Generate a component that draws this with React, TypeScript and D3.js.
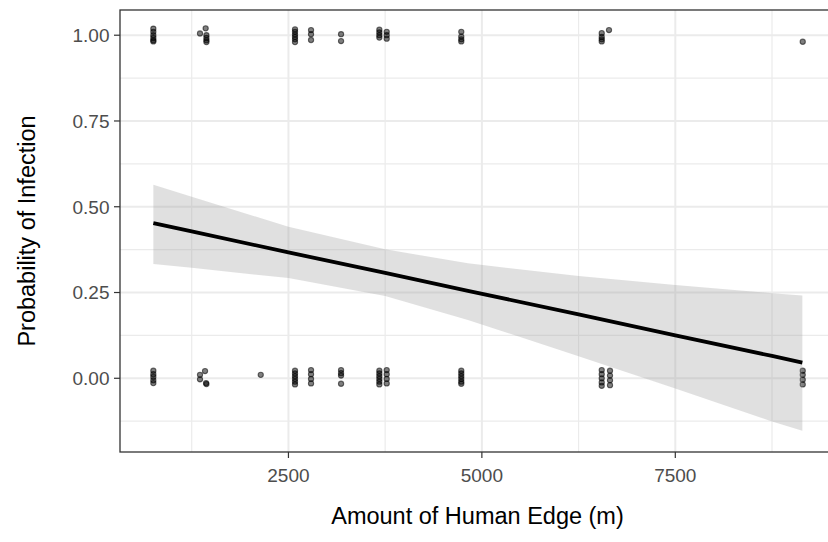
import React from "react";
import * as d3 from "d3";

const pointX = [
  754, 754, 754, 754, 754, 754,
  1430, 1357, 1440, 1440, 1440, 1440,
  2585, 2585, 2585, 2585, 2585, 2585,
  2792, 2792, 2792,
  3180, 3180,
  3675, 3675, 3675, 3675,
  3770, 3770, 3770,
  4734, 4734, 4734, 4734,
  6549, 6549, 6549, 6549,
  6643,
  9147,
  754, 754, 754, 754, 754,
  1422, 1357, 1357, 1435, 1440,
  2142,
  2585, 2585, 2585, 2585, 2585, 2585,
  2792, 2792, 2792, 2792,
  3180, 3180, 3180, 3180,
  3675, 3675, 3675, 3675, 3675, 3675,
  3770, 3770, 3770, 3770,
  4734, 4734, 4734, 4734, 4734, 4734,
  6549, 6549, 6549, 6549, 6549,
  6656, 6656, 6656, 6656,
  9147, 9147, 9147, 9147,
];
const pointY = [
  1.019, 1.01, 1.0, 0.992, 0.985, 0.982,
  1.02, 1.005, 1.0, 0.992, 0.985, 0.98,
  1.017, 1.01, 1.002, 0.995, 0.988, 0.98,
  1.015, 1.003, 0.986,
  1.003, 0.983,
  1.016, 1.008, 1.0, 0.993,
  1.01, 1.0, 0.99,
  1.01, 0.996, 0.988, 0.982,
  1.006, 0.995, 0.988, 0.982,
  1.015,
  0.981,
  0.022, 0.012, 0.004, -0.006, -0.014,
  0.021, 0.01, -0.003, -0.014, -0.017,
  0.01,
  0.022, 0.014, 0.006, -0.002, -0.01, -0.018,
  0.024, 0.012, -0.002, -0.015,
  0.024, 0.015, 0.008, -0.016,
  0.022, 0.014, 0.006, -0.002, -0.01, -0.018,
  0.024, 0.012, -0.002, -0.015,
  0.022, 0.014, 0.006, -0.002, -0.01, -0.016,
  0.024, 0.012, 0.0, -0.012, -0.022,
  0.022, 0.008, -0.006, -0.02,
  0.022, 0.01, -0.004, -0.018,
];

// fitted line and its confidence band
const fitX = [754, 1250, 2500, 3750, 4820, 6250, 7500, 8750, 9142];
const fitY = [0.452, 0.428, 0.367, 0.307, 0.255, 0.186, 0.125, 0.065, 0.0455];
const bandUpper = [0.564, 0.529, 0.442, 0.376, 0.335, 0.298, 0.272, 0.248, 0.241];
const bandLower = [0.333, 0.322, 0.292, 0.24, 0.17, 0.064, -0.03, -0.126, -0.153];

const xTicks = [2500, 5000, 7500];
const xMinor = [1250, 3750, 6250, 8750];
const yTicks = [0, 0.25, 0.5, 0.75, 1];
const yMinor = [-0.125, 0.125, 0.375, 0.625, 0.875];

const W = 828;
const H = 542;
const panel = { left: 120, right: 835, top: 10, bottom: 452 };

const App = () => {
  const x = d3.scaleLinear().domain([323, 9564]).range([panel.left, panel.right]);
  const y = d3.scaleLinear().domain([-0.2149, 1.0735]).range([panel.bottom, panel.top]);

  const idx = d3.range(fitX.length);
  const band = d3.area<number>()
    .x(i => x(fitX[i]))
    .y0(i => y(bandLower[i]))
    .y1(i => y(bandUpper[i]));
  const fit = d3.line<number>()
    .x(i => x(fitX[i]))
    .y(i => y(fitY[i]));

  const fmt = d3.format(".2f");
  const font = "'Liberation Sans', Arial, sans-serif";

  return (
    <svg width={W} height={H} style={{ position: "absolute", left: 0, top: 0, background: "white" }}
      fontFamily={font}>
      <rect x={0} y={0} width={W} height={H} fill="white" />
      {/* grid */}
      <g>
        {yMinor.map((d, i) =>
          <line key={"ym" + i} x1={panel.left} x2={panel.right} y1={y(d)} y2={y(d)} stroke="#ebebeb" strokeWidth={1.2} />)}
        {xMinor.map((d, i) =>
          <line key={"xm" + i} x1={x(d)} x2={x(d)} y1={panel.top} y2={panel.bottom} stroke="#ebebeb" strokeWidth={1.2} />)}
        {yTicks.map((d, i) =>
          <line key={"y" + i} x1={panel.left} x2={panel.right} y1={y(d)} y2={y(d)} stroke="#ebebeb" strokeWidth={2} />)}
        {xTicks.map((d, i) =>
          <line key={"x" + i} x1={x(d)} x2={x(d)} y1={panel.top} y2={panel.bottom} stroke="#ebebeb" strokeWidth={2} />)}
      </g>
      {/* points */}
      <g>
        {pointX.map((d, i) =>
          <circle key={i} cx={x(d)} cy={y(pointY[i])} r={2.6}
            fill="black" fillOpacity={0.5} stroke="black" strokeOpacity={0.55} strokeWidth={1.1} />)}
      </g>
      <path d={band(idx) || ""} fill="#999999" fillOpacity={0.3} />
      <path d={fit(idx) || ""} fill="none" stroke="black" strokeWidth={3.8} />
      {/* panel border */}
      <rect x={panel.left} y={panel.top} width={panel.right - panel.left} height={panel.bottom - panel.top}
        fill="none" stroke="#333333" strokeWidth={1.3} />
      {/* y axis */}
      {yTicks.map((d, i) =>
        <g key={i} transform={`translate(0, ${y(d)})`}>
          <line x1={114} x2={panel.left} stroke="#333333" strokeWidth={1.2} />
          <text x={109.5} dy="0.36em" textAnchor="end" fontSize={19} fill="#4d4d4d">{fmt(d)}</text>
        </g>)}
      {/* x axis */}
      {xTicks.map((d, i) =>
        <g key={i} transform={`translate(${x(d)}, 0)`}>
          <line y1={panel.bottom} y2={panel.bottom + 6} stroke="#333333" strokeWidth={1.2} />
          <text y={482} textAnchor="middle" fontSize={19} fill="#4d4d4d">{d}</text>
        </g>)}
      <text x={(panel.left + panel.right) / 2} y={524} textAnchor="middle" fontSize={23.5} fill="black">
        Amount of Human Edge (m)
      </text>
      <text transform={`translate(35, ${(panel.top + panel.bottom) / 2}) rotate(-90)`} textAnchor="middle"
        fontSize={23.5} fill="black">
        Probability of Infection
      </text>
    </svg>
  );
};

export default App;
